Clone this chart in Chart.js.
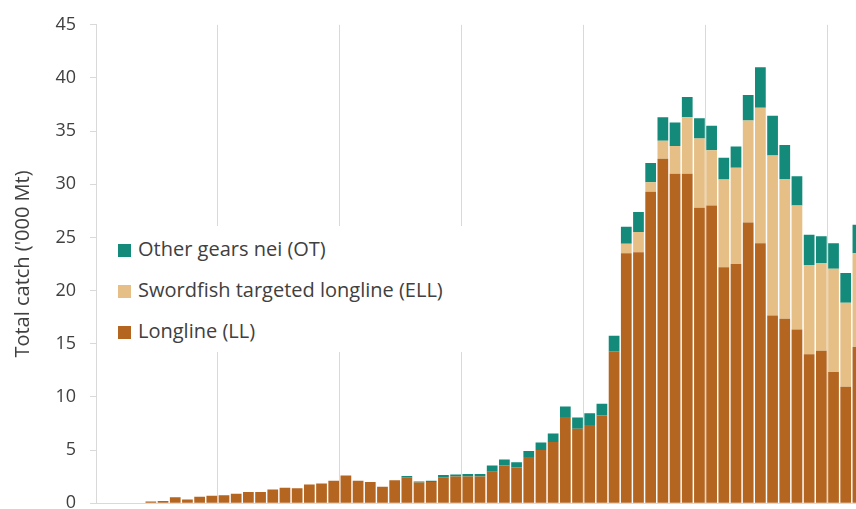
<!DOCTYPE html>
<html>
<head>
<meta charset="utf-8">
<script src="https://cdn.jsdelivr.net/npm/chart.js@4.4.1/dist/chart.umd.min.js"></script>
<style>
  html, body { margin: 0; padding: 0; background: #fff; overflow: hidden; }
  #wrap { position: relative; width: 864px; height: 528px; }
  #legend {
    position: absolute; left: 106px; top: 226px; width: 366px; height: 126px;
    background: #fff; font-family: "Open Sans", sans-serif; font-size: 20px; color: #404040;
  }
  .item { position: absolute; left: 12px; height: 24px; line-height: 24px; white-space: nowrap; }
  .sw { display: inline-block; width: 13px; height: 13px; margin-right: 7px; vertical-align: -1px; }
</style>
</head>
<body>
<div id="wrap">
  <canvas id="chart"></canvas>
  <div id="legend"></div>
</div>
<script>
// years, one category per year
const years = [];
for (let y = 1950; y <= 2012; y++) years.push(String(y));

// Longline (LL), '000 t
const longline = [
  0, 0, 0, 0, 0.15, 0.2, 0.55, 0.35, 0.6, 0.7,
  0.75, 0.9, 1.05, 1.05, 1.3, 1.45, 1.4, 1.75, 1.85, 2.1,
  2.6, 2.1, 2.0, 1.55, 2.15, 2.45, 1.95, 2.0, 2.45, 2.5,
  2.5, 2.5, 2.95, 3.55, 3.35, 4.35, 5.0, 5.75, 8.1, 7.0,
  7.35, 8.25, 14.3, 23.5, 23.6, 29.3, 32.4, 31.0, 31.0, 27.8,
  28.0, 22.2, 22.5, 26.4, 24.45, 17.65, 17.35, 16.35, 14.0, 14.35,
  12.35, 10.95, 14.7
];

// Swordfish targeted longline (ELL)
const swordfishLL = [
  0, 0, 0, 0, 0, 0, 0, 0, 0, 0,
  0, 0, 0, 0, 0, 0, 0, 0, 0, 0,
  0, 0, 0, 0, 0, 0, 0, 0, 0, 0,
  0, 0, 0, 0, 0, 0, 0, 0, 0, 0,
  0, 0, 0, 0.9, 1.9, 0.9, 1.7, 2.6, 5.3, 6.5,
  5.2, 8.25, 9.05, 9.6, 12.75, 15.05, 13.15, 11.65, 8.4, 8.25,
  9.7, 7.9, 8.8
];

// Other gears nei (OT)
const otherGears = [
  0, 0, 0, 0, 0, 0, 0, 0, 0, 0,
  0, 0, 0, 0, 0, 0, 0, 0, 0, 0,
  0, 0, 0, 0, 0, 0.1, 0.1, 0.1, 0.2, 0.2,
  0.25, 0.25, 0.6, 0.55, 0.5, 0.55, 0.7, 0.8, 1.0, 1.05,
  1.1, 1.1, 1.45, 1.6, 1.9, 1.8, 2.2, 2.2, 1.9, 1.9,
  2.3, 2.05, 2.0, 2.4, 3.8, 3.75, 3.2, 2.75, 2.85, 2.5,
  2.4, 2.8, 2.7
];

const yTicks = [0, 5, 10, 15, 20, 25, 30, 35, 40, 45];

const font = "'Open Sans', sans-serif";
const grey = '#d9d9d9';

const ctx = document.getElementById('chart').getContext('2d');
const chart = new Chart(ctx, {
  type: 'bar',
  data: {
    labels: years,
    datasets: [
      { label: 'Longline (LL)', data: longline, backgroundColor: '#b4651f' },
      { label: 'Swordfish targeted longline (ELL)', data: swordfishLL, backgroundColor: '#e5bf86' },
      { label: 'Other gears nei (OT)', data: otherGears, backgroundColor: '#138a7a' }
    ]
  },
  options: {
    responsive: true,
    maintainAspectRatio: false,
    animation: false,
    layout: { padding: { top: 24, bottom: 6, left: 0, right: 0 } },
    datasets: { bar: { categoryPercentage: 1, barPercentage: 0.88 } },
    plugins: { legend: { display: false }, tooltip: { enabled: false } },
    scales: {
      x: {
        stacked: true,
        afterFit: s => { s.height = 0; },
        ticks: { display: false, autoSkip: false },
        grid: {
          offset: true,
          drawTicks: false,
          // a line every ten years
          color: c => (c.index % 10 === 0 ? grey : 'rgba(0,0,0,0)')
        },
        border: { color: grey }
      },
      y: {
        stacked: true,
        min: 0,
        max: 45,
        afterBuildTicks: s => { s.ticks = yTicks.map(v => ({ value: v })); },
        afterFit: s => { s.width = 96; },
        ticks: { color: '#404040', font: { family: font, size: 18 }, padding: 14 },
        grid: { drawOnChartArea: false, tickLength: 6, color: grey },
        border: { color: grey },
        title: {
          display: true,
          text: "Total catch ('000 Mt)",
          color: '#404040',
          font: { family: font, size: 20 },
          padding: { top: 11, bottom: 4 }
        }
      }
    }
  }
});

// legend drawn as html on a white box, top series first
const legend = document.getElementById('legend');
chart.data.datasets.slice().reverse().forEach((ds, i) => {
  const row = document.createElement('div');
  row.className = 'item';
  row.style.top = (11 + i * 41) + 'px';
  row.innerHTML = '<span class="sw" style="background:' + ds.backgroundColor + '"></span>' + ds.label;
  legend.appendChild(row);
});
</script>
</body>
</html>
